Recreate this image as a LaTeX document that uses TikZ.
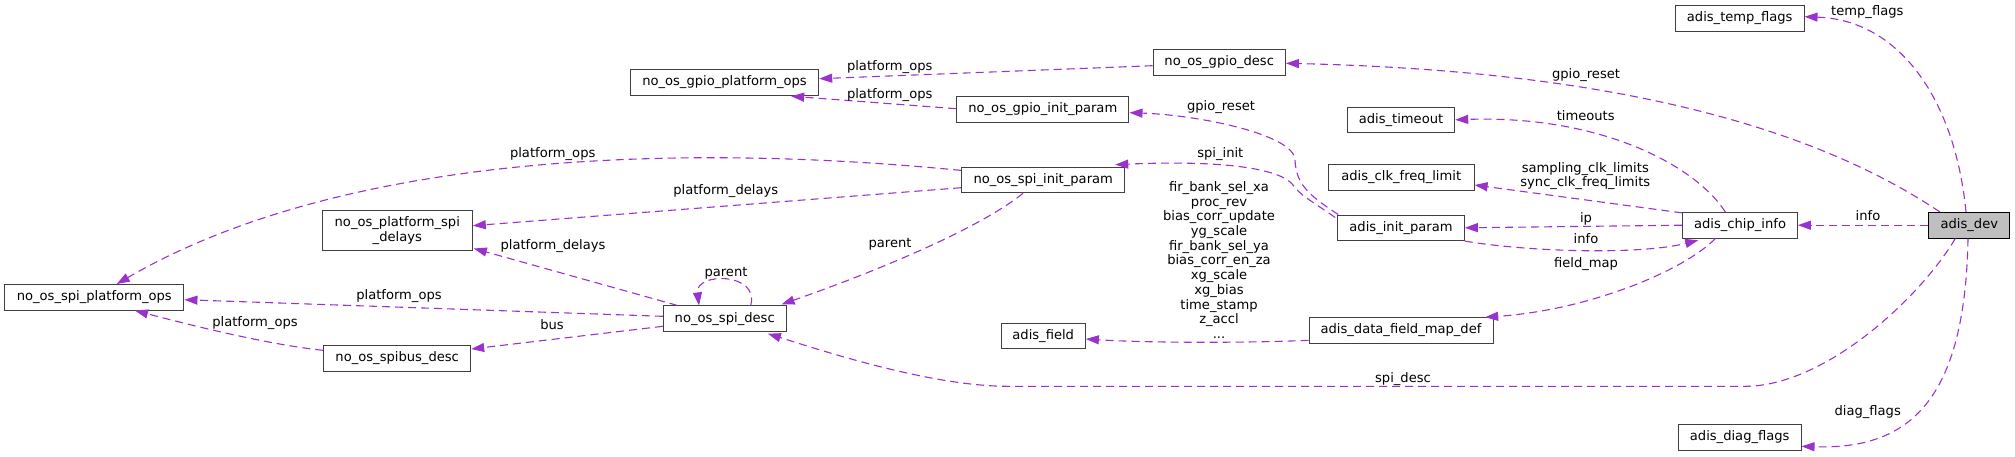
\documentclass[tikz,border=0pt]{standalone}
\usepackage{fontspec}
\setmainfont{DejaVu Sans}
\usetikzlibrary{arrows.meta,calc}
\definecolor{edgec}{HTML}{9A32CD}
\definecolor{boxc}{HTML}{404040}
\definecolor{devfill}{HTML}{BFBFBF}
\begin{document}
\begin{tikzpicture}[x=1pt,y=-1pt,
  every node/.style={font=\fontsize{13.1}{14.7}\selectfont, inner sep=0pt},
  oneline/.style={text height=9.6pt, text depth=2.8pt},
  lbl/.style={oneline},
  mlbl/.style={align=center},
  box/.style={draw=boxc, line width=1pt, fill=white, minimum height=25.6pt},
  edge/.style={draw=edgec, line width=1.1pt, dash pattern=on 8pt off 5pt,
    -{Triangle[length=13pt,width=9pt,fill=edgec]}}]
\useasboundingbox (0,0) rectangle (2015,456);

% nodes
\node[box, oneline, minimum width=188.4pt] (gpioplat) at (724.5,82.5) {no\_os\_gpio\_platform\_ops};
\node[box, oneline, minimum width=132.3pt] (gpiodesc) at (1219.2,62.5) {no\_os\_gpio\_desc};
\node[box, oneline, minimum width=172.3pt] (gpioinit) at (1042.8,109.3) {no\_os\_gpio\_init\_param};
\node[box, oneline, minimum width=163pt] (spiinit) at (1043.2,180) {no\_os\_spi\_init\_param};
\node[box, minimum width=150pt, minimum height=40.4pt, align=center] (delays) at (397.3,230.5) {no\_os\_platform\_spi\\\_delays};
\node[box, oneline, minimum width=179.3pt] (spiplat) at (94.3,297.3) {no\_os\_spi\_platform\_ops};
\node[box, oneline, minimum width=122.7pt] (spidesc) at (724.7,318.7) {no\_os\_spi\_desc};
\node[box, oneline, minimum width=147pt] (spibus) at (397.2,358.5) {no\_os\_spibus\_desc};
\node[box, oneline, minimum width=84.3pt] (field) at (1043.2,336) {adis\_field};
\node[box, oneline, minimum width=184pt] (mapdef) at (1401,330.5) {adis\_data\_field\_map\_def};
\node[box, oneline, minimum width=126.6pt] (initp) at (1401,227.8) {adis\_init\_param};
\node[box, oneline, minimum width=145.7pt] (clk) at (1401.2,177.2) {adis\_clk\_freq\_limit};
\node[box, oneline, minimum width=107.4pt] (timeout) at (1401,119.8) {adis\_timeout};
\node[box, oneline, minimum width=114.6pt] (chip) at (1740,225.2) {adis\_chip\_info};
\node[box, oneline, minimum width=81.3pt, fill=devfill, draw=black] (dev) at (1969.3,225.2) {adis\_dev};
\node[box, oneline, minimum width=128.7pt] (temp) at (1739.7,18.5) {adis\_temp\_flags};
\node[box, oneline, minimum width=122.7pt] (diag) at (1739.7,437.3) {adis\_diag\_flags};

% edges
\draw[edge] ($(gpiodesc.west)+(0,3.2)$) -- ($(gpioplat.east)+(0,-3.8)$);
\draw[edge] ($(gpioinit.west)+(0,-0.6)$) -- ($(gpioplat.south east)+(-28,0.4)$);
\draw[edge] ($(spiinit.north west)+(0,3.7)$) .. controls (650,140) and (330,160) .. ($(spiplat.north)+(22.4,0)$);
\draw[edge] ($(spiinit.west)+(0,7.7)$) -- ($(delays.east)+(0,-4.8)$);
\draw[edge] ($(spiinit.south)+(-20.2,0)$) .. controls (980,228) and (880,270) .. ($(spidesc.north east)+(-5,-1)$);
\draw[edge] ($(spidesc.north)+(-47.4,0)$) -- ($(delays.south east)+(1,-2.7)$);
\draw[edge] ($(spidesc.north)+(26,0)$) .. controls (760,272) and (695,272) .. ($(spidesc.north)+(-25.7,0)$);
\draw[edge] ($(spidesc.west)+(0,-2.4)$) -- ($(spiplat.east)+(0,2.4)$);
\draw[edge] ($(spidesc.west)+(0,7.6)$) -- ($(spibus.east)+(0,-9.5)$);
\draw[edge] ($(spibus.west)+(0,-8.2)$) .. controls (270,345) and (190,325) .. ($(spiplat.south)+(40.7,0)$);
\draw[edge] ($(dev.north west)+(11.6,0)$) .. controls (1800,118) and (1585,70) .. ($(gpiodesc.east)+(0,0.8)$);
\draw[edge] ($(dev.north)+(-3.3,0)$) .. controls (1955,100) and (1900,20) .. ($(temp.east)+(0,-1.8)$);
\draw[edge] (dev.west) -- (chip.east);
\draw[edge] ($(dev.south)+(-14,0)$) .. controls (1920,298) and (1825,386.3) .. (1745,386.3) -- (1008,386.3) .. controls (930,386.3) and (820,350) .. ($(spidesc.south east)+(-18.7,1.7)$);
\draw[edge] ($(dev.south)+(-1.3,0)$) .. controls (1965,400) and (1910,450) .. ($(diag.east)+(0,9)$);
\draw[edge] ($(chip.north)+(-14.7,0)$) .. controls (1695,165) and (1600,115) .. (timeout.east);
\draw[edge] ($(chip.north west)+(0,1)$) -- ($(clk.east)+(0,7.8)$);
\draw[edge] (chip.west) -- (initp.east);
\draw[edge] (initp.south east) .. controls (1530,252) and (1640,255) .. ($(chip.south west)+(16,1.7)$);
\draw[edge] ($(chip.south)+(-24.7,0)$) .. controls (1685,270) and (1590,310) .. ($(mapdef.north east)+(-8.3,0)$);
\draw[edge] ($(initp.north west)+(1,0)$) .. controls (1310,196) and (1296,185) .. (1295,160) .. controls (1295,135) and (1200,115) .. ($(gpioinit.east)+(0,3.4)$);
\draw[edge] ($(initp.north west)+(-2,3)$) .. controls (1310,200) and (1300,195) .. (1293,185) .. controls (1280,168) and (1220,160) .. ($(spiinit.north east)+(-10,-2)$);
\draw[edge] ($(mapdef.west)+(0,9.8)$) .. controls (1250,343) and (1150,343) .. ($(field.east)+(0,3)$);

% labels
\node[lbl] (t1) at (889.7,66.7) {platform\_ops};
\node[lbl] (t2) at (889.7,94.7) {platform\_ops};
\node[lbl] (t3) at (552.7,154.3) {platform\_ops};
\node[lbl] (t4) at (725.7,191.3) {platform\_delays};
\node[lbl] (t5) at (890,243.7) {parent};
\node[lbl] (t6) at (553,246.3) {platform\_delays};
\node[lbl] (t7) at (726,273) {parent};
\node[lbl] (t8) at (399,296) {platform\_ops};
\node[lbl] (t9) at (552,326) {bus};
\node[lbl] (t10) at (255,322.7) {platform\_ops};
\node[lbl] (t11) at (1586,74.7) {gpio\_reset};
\node[lbl] (t12) at (1867.3,11.7) {temp\_flags};
\node[lbl] (t13) at (1868,216.7) {info};
\node[lbl] (t14) at (1403,378.7) {spi\_desc};
\node[lbl] (t15) at (1867.7,411.7) {diag\_flags};
\node[lbl] (t16) at (1585.7,116.7) {timeouts};
\node[mlbl] (t17) at (1585.3,176) {sampling\_clk\_limits\\sync\_clk\_freq\_limits};
\node[lbl] (t18) at (1586,219) {ip};
\node[lbl] (t19) at (1586,239.7) {info};
\node[lbl] (t20) at (1586,264) {field\_map};
\node[lbl] (t21) at (1221,106.7) {gpio\_reset};
\node[lbl] (t22) at (1220.3,154.3) {spi\_init};
\node[mlbl] (t23) at (1219,260) {fir\_bank\_sel\_xa\\proc\_rev\\bias\_corr\_update\\yg\_scale\\fir\_bank\_sel\_ya\\bias\_corr\_en\_za\\xg\_scale\\xg\_bias\\time\_stamp\\z\_accl\\...};
\end{tikzpicture}
\end{document}
